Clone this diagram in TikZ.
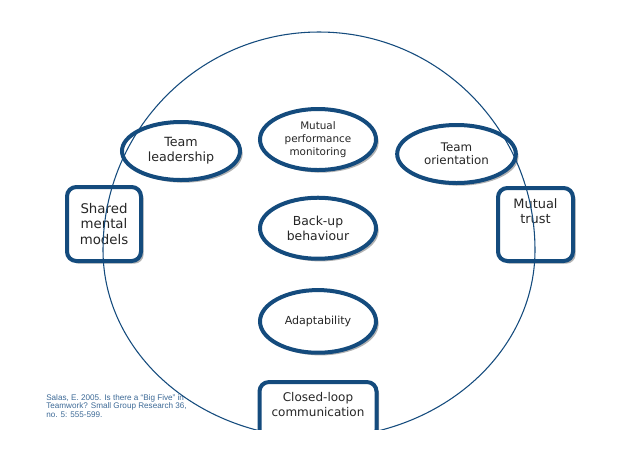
\documentclass[tikz,border=0pt]{standalone}
\usepackage{fontspec}
\setmainfont{DejaVu Sans}
\newfontfamily\reffont{Liberation Sans}
\usetikzlibrary{positioning,shapes.geometric,shadows}

\definecolor{teamblue}{RGB}{20,75,125}
\definecolor{refblue}{RGB}{60,105,150}

\tikzset{
  fs/.style 2 args={font=\fontsize{#1}{#2}\selectfont},
  skill/.style={draw=teamblue, line width=3pt, fill=white, text=black!85,
    align=center, inner sep=0pt,
    drop shadow={shadow xshift=2pt, shadow yshift=-2pt, opacity=0.3, fill=black}},
  oval/.style={skill, ellipse, minimum width=87pt, minimum height=45.75pt},
  panel/.style={skill, rounded corners=7pt},
  outline/.style={draw=teamblue, line width=0.8pt},
  reftext/.style={text=refblue, align=left, inner sep=0pt,
    font=\reffont\fontsize{6.1}{6.6}\selectfont},
}

\begin{document}
\begin{tikzpicture}[x=0.75pt, y=-0.75pt]
\useasboundingbox (0,0) rectangle (638,451);
\clip (0,0) rectangle (638,429);

%% middle column
\node[oval, fs={7.8}{9.5}] (monitor) at (318,139.5) {Mutual\\performance\\monitoring};
\node[oval, fs={9.3}{11.3}, below=17.8pt of monitor] (backup) {Back-up\\behaviour};
\node[oval, fs={8.3}{10}, minimum height=47pt, below=20.5pt of backup] (adapt) {Adaptability};
\node[panel, fs={9}{11.3}, minimum width=87.75pt, minimum height=42.75pt,
      below=19pt of adapt] (loop)
      {\parbox[c][27.3pt][t]{85pt}{\centering Closed-loop\\communication}};

%% left and right
\node[oval, fs={9.5}{11.3}, minimum width=88.5pt, minimum height=43.5pt]
      (lead) at (181,151) {Team\\leadership};
\node[oval, fs={8.9}{10}, minimum width=89pt, minimum height=43.5pt]
      (orient) at (456.5,154) {Team\\orientation};
\node[panel, fs={10}{11.6}, minimum width=55.5pt, minimum height=55.5pt]
      (models) at (104,224) {Shared\\mental\\models};
\node[panel, fs={9.7}{10.8}, minimum width=56.25pt, minimum height=54.75pt]
      (trust) at (535.5,224.5) {\parbox[c][38.3pt][t]{54pt}{\centering Mutual\\trust}};

%% reference
\node[reftext, anchor=north west] (ref) at (46,394)
      {Salas, E. 2005. Is there a “Big Five” in\\Teamwork? Small Group Research 36,\\no. 5: 555-599.};

%% big ring, drawn over everything (upper and lower half)
\draw[outline] (103,250)
  arc[start angle=180, end angle=360, x radius=216, y radius=218]
  arc[start angle=0, end angle=180, x radius=216, y radius=188] -- cycle;
\end{tikzpicture}
\end{document}
